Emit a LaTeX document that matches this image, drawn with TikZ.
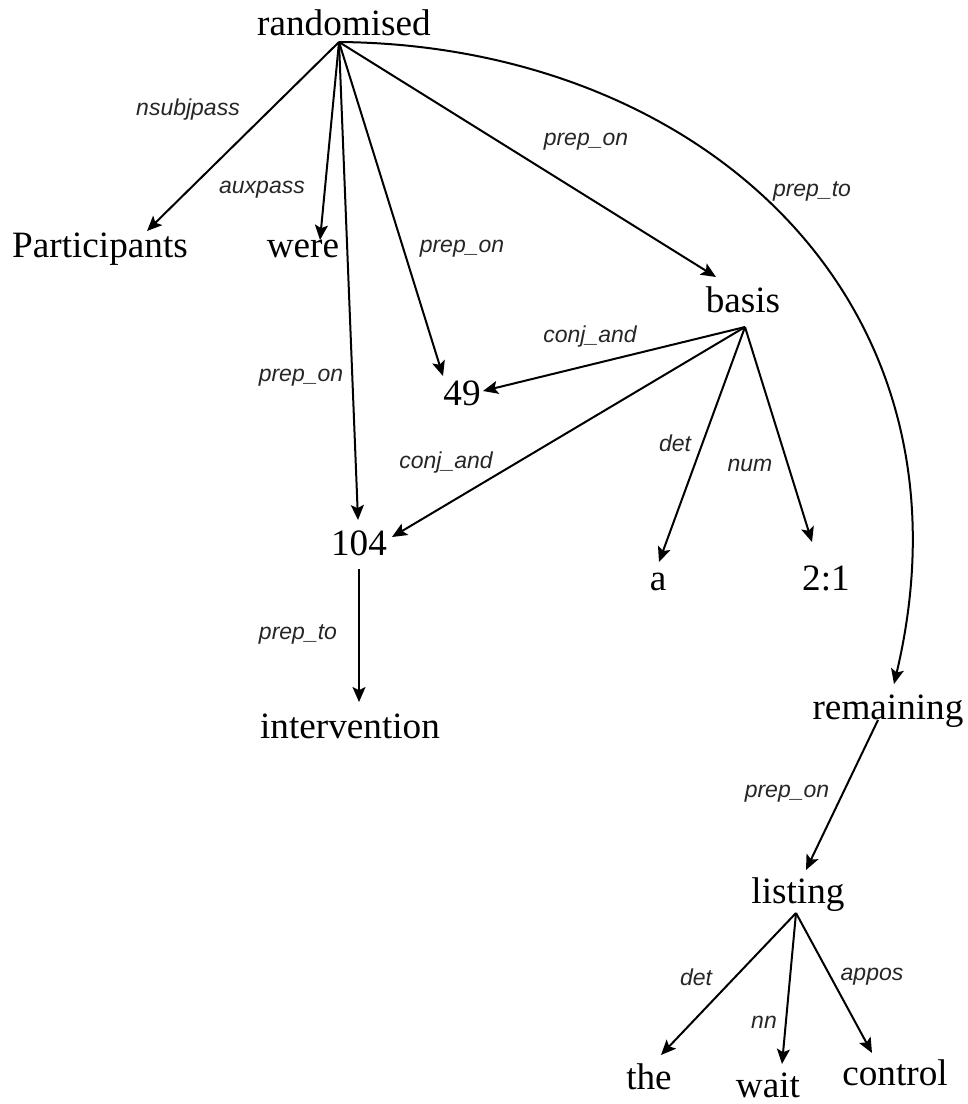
\documentclass[tikz,border=0pt]{standalone}
\usepackage{fontspec}
\setmainfont{Liberation Serif}
\newfontfamily\relfont{Liberation Sans}
\usetikzlibrary{arrows.meta}

\begin{document}
\begin{tikzpicture}[
        x=0.5pt, y=-0.5pt,
        % words of the sentence
        word/.style={
            font=\fontsize{18.6}{22}\selectfont,
            inner sep=0pt,
            anchor=base
        },
        % dependency labels
        rel/.style={
            font=\relfont\itshape\fontsize{11.5}{13}\selectfont,
            text=black!85,
            inner sep=0pt
        },
        dep/.style={
            -{Stealth[length=7.5pt, width=6.5pt, inset=1.6pt]},
            line width=1pt
        }
    ]
    \useasboundingbox (0,0) rectangle (968,1104);

    % Words
    \node (randomised)   [word] at (344,35)   {randomised};
    \node (participants) [word] at (100,257)  {Participants};
    \node (were)         [word] at (303,257)  {were};
    \node (basis)        [word] at (743,312)  {basis};
    \node (n49)          [word] at (462,405)  {49};
    \node (n104)         [word] at (359,555)  {104};
    \node (a)            [word] at (658,590)  {a};
    \node (ratio)        [word] at (826,590)  {2:1};
    \node (intervention) [word] at (350,738)  {intervention};
    \node (remaining)    [word] at (888,719)  {remaining};
    \node (listing)      [word] at (798,903)  {listing};
    \node (the)          [word] at (649,1089) {the};
    \node (wait)         [word] at (768,1097) {wait};
    \node (control)      [word] at (895,1085) {control};

    % Dependencies of randomised
    \draw [dep] ([shift={(-5,7)}]randomised.base) -- ([shift={(47,-26)}]participants.base)
        node [rel] at (188,110) {nsubjpass};
    \draw [dep] ([shift={(-5,7)}]randomised.base) -- ([shift={(17,-17)}]were.base)
        node [rel] at (262,190) {auxpass};
    \draw [dep] ([shift={(-5,7)}]randomised.base) -- ([shift={(-1,-35)}]n104.base)
        node [rel] at (301,378) {prep\_on};
    \draw [dep] ([shift={(-5,7)}]randomised.base) -- ([shift={(-19,-29)}]n49.base)
        node [rel] at (462,249) {prep\_on};
    \draw [dep] ([shift={(-5,7)}]randomised.base) -- ([shift={(-27,-35)}]basis.base)
        node [rel] at (586,142) {prep\_on};
    \draw [dep] ([shift={(-5,7)}]randomised.base) .. controls (700,45) and (985,300) .. ([shift={(6,-35)}]remaining.base)
        node [rel] at (812,191) {prep\_to};

    % Dependencies of basis
    \draw [dep] ([shift={(2,15)}]basis.base) -- ([shift={(21,-14)}]n49.base)
        node [rel] at (590,337) {conj\_and};
    \draw [dep] ([shift={(2,15)}]basis.base) -- ([shift={(33,-18)}]n104.base)
        node [rel] at (446,463) {conj\_and};
    \draw [dep] ([shift={(2,15)}]basis.base) -- ([shift={(1,-28)}]a.base)
        node [rel] at (675,443) {det};
    \draw [dep] ([shift={(2,15)}]basis.base) -- ([shift={(-14,-48)}]ratio.base)
        node [rel] at (750,465) {num};

    % 104 and remaining
    \draw [dep] ([shift={(0,14)}]n104.base) -- ([shift={(9,-36)}]intervention.base)
        node [rel] at (298,634) {prep\_to};
    \draw [dep] ([shift={(-10,1)}]remaining.base) -- ([shift={(8,-33)}]listing.base)
        node [rel] at (787,794) {prep\_on};

    % Dependencies of listing
    \draw [dep] ([shift={(-2,10)}]listing.base) -- ([shift={(12,-34)}]the.base)
        node [rel] at (696,977) {det};
    \draw [dep] ([shift={(-2,10)}]listing.base) -- ([shift={(14,-33)}]wait.base)
        node [rel] at (764,1022) {nn};
    \draw [dep] ([shift={(-2,10)}]listing.base) -- ([shift={(-23,-32)}]control.base)
        node [rel] at (872,977) {appos};

\end{tikzpicture}
\end{document}
